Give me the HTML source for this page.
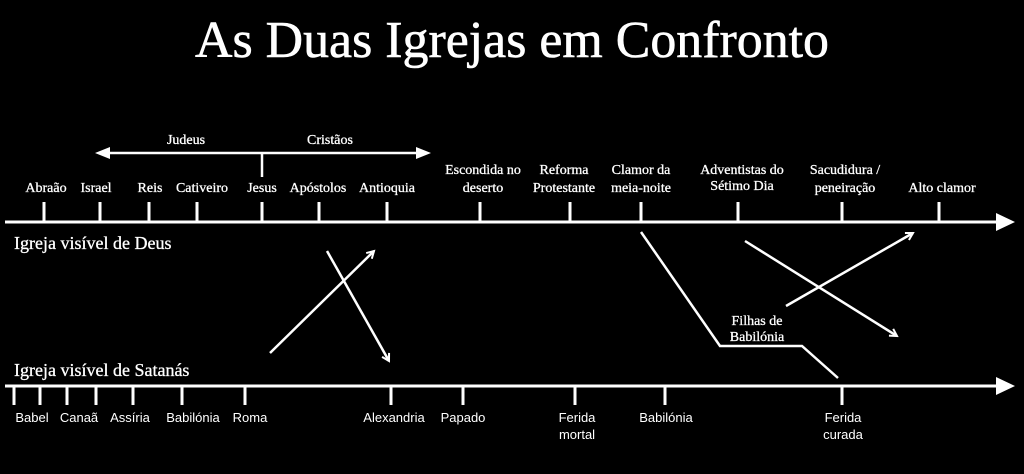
<!DOCTYPE html>
<html><head><meta charset="utf-8"><style>
html,body{margin:0;padding:0;background:#000;width:1024px;height:474px;overflow:hidden}
svg{display:block}
text{fill:#fff;font-family:"Liberation Serif",serif}
.s{font-size:14px;text-anchor:middle}
.b{font-family:"Liberation Sans Narrow","Liberation Sans",sans-serif;font-size:13px;text-anchor:middle}
</style></head><body>
<svg width="1024" height="474" viewBox="0 0 1024 474">
<defs><marker id="a" markerWidth="10" markerHeight="10" refX="8" refY="5" orient="auto" markerUnits="userSpaceOnUse"><path d="M1,1 L8,5 L1,9" fill="none" stroke="#fff" stroke-width="2"/></marker></defs>
<text x="512" y="57" font-size="52" text-anchor="middle" textLength="634" lengthAdjust="spacingAndGlyphs" stroke="#fff" stroke-width="0.6">As Duas Igrejas em Confronto</text>
<g stroke="#fff" stroke-width="3" fill="none">
<line x1="5" y1="222" x2="998" y2="222"/>
<line x1="5" y1="386" x2="998" y2="386"/>
<line x1="108" y1="153" x2="418" y2="153" stroke-width="2.5"/>
<line x1="262" y1="153" x2="262" y2="177" stroke-width="2.5"/>
<g stroke-width="3">
<path d="M44 202V222M100 202V222M149 202V222M197 202V222M262 202V222M319 202V222M387 202V222M480 202V222M570 202V222M641 202V222M738 202V222M842 202V222M939 202V222"/>
<path d="M14 386V405M40 386V405M67 386V405M96 386V405M133 386V405M182 386V405M245 386V405M391 386V405M463 386V405M575 386V405M665 386V405M842 386V405"/>
</g>
<g stroke-width="2.5">
<line x1="270" y1="353" x2="374" y2="251" marker-end="url(#a)"/>
<line x1="327" y1="251" x2="389" y2="361" marker-end="url(#a)"/>
<polyline points="641,232 720,346 802,346 838,378"/>
<line x1="745" y1="241" x2="897" y2="336" marker-end="url(#a)"/>
<line x1="786" y1="306" x2="913" y2="233" marker-end="url(#a)"/>
</g>
</g>
<path d="M95 153 L110 147 L110 159Z M431 153 L416 147 L416 159Z M1015 222 L996 213 L996 231Z M1015 386 L996 377 L996 395Z" fill="#fff"/>
<g stroke="#fff" stroke-width="0.3">
<text class="s" x="186" y="144">Judeus</text>
<text class="s" x="330" y="144">Cristãos</text>
<text class="s" x="46" y="192">Abraão</text>
<text class="s" x="96" y="192">Israel</text>
<text class="s" x="150" y="192">Reis</text>
<text class="s" x="202" y="192">Cativeiro</text>
<text class="s" x="262" y="192">Jesus</text>
<text class="s" x="318" y="192">Apóstolos</text>
<text class="s" x="387" y="192">Antioquia</text>
<text class="s" x="483" y="174">Escondida no</text><text class="s" x="483" y="192">deserto</text>
<text class="s" x="564" y="174">Reforma</text><text class="s" x="564" y="192">Protestante</text>
<text class="s" x="641" y="174">Clamor da</text><text class="s" x="641" y="192">meia-noite</text>
<text class="s" x="742" y="174">Adventistas do</text><text class="s" x="742" y="190">Sétimo Dia</text>
<text class="s" x="845" y="174">Sacudidura /</text><text class="s" x="845" y="192">peneiração</text>
<text class="s" x="942" y="192">Alto clamor</text>
<text class="s" x="757" y="325">Filhas de</text><text class="s" x="757" y="341">Babilónia</text>
<text x="14" y="249" font-size="18">Igreja visível de Deus</text>
<text x="14" y="376" font-size="18">Igreja visível de Satanás</text>
</g>
<text class="b" x="32" y="422">Babel</text>
<text class="b" x="79" y="422">Canaã</text>
<text class="b" x="130" y="422">Assíria</text>
<text class="b" x="193" y="422">Babilónia</text>
<text class="b" x="250" y="422">Roma</text>
<text class="b" x="394" y="422">Alexandria</text>
<text class="b" x="463" y="422">Papado</text>
<text class="b" x="577" y="422">Ferida</text><text class="b" x="577" y="439">mortal</text>
<text class="b" x="666" y="422">Babilónia</text>
<text class="b" x="843" y="422">Ferida</text><text class="b" x="843" y="439">curada</text>
</svg>
</body></html>
